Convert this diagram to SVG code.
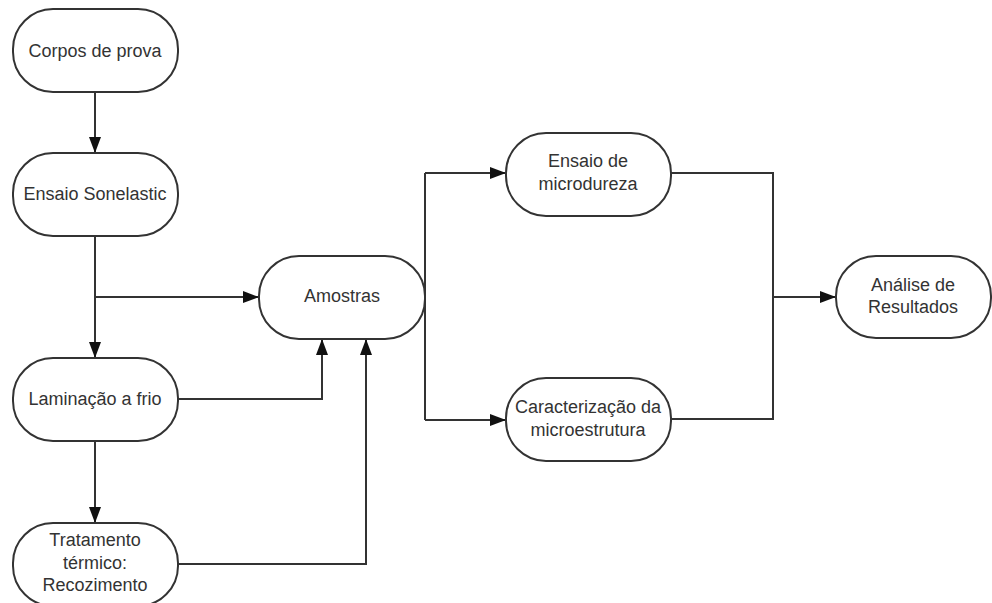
<svg xmlns="http://www.w3.org/2000/svg" width="992" height="603" viewBox="0 0 992 603">
<style>
.box{fill:#fff;stroke:#333;stroke-width:2}
.t{font-family:"Liberation Sans",Arial,sans-serif;font-size:18px;fill:#333;text-anchor:middle}
.c{fill:none;stroke:#333;stroke-width:2}
</style>
<defs>
<marker id="ah" markerWidth="16" markerHeight="12" refX="15" refY="6" orient="auto" markerUnits="userSpaceOnUse">
<path d="M0,0 L16,6 L0,12 Z" fill="#111"/>
</marker>
</defs>
<rect width="992" height="603" fill="#fff"/>
<g id="connectors">
<path class="c" d="M95,92 V152" marker-end="url(#ah)"/>
<path class="c" d="M95,236 V357" marker-end="url(#ah)"/>
<path class="c" d="M95,297 H258" marker-end="url(#ah)"/>
<path class="c" d="M95,441 V522" marker-end="url(#ah)"/>
<path class="c" d="M177,399 H322 V340" marker-end="url(#ah)"/>
<path class="c" d="M177,564 H366 V340" marker-end="url(#ah)"/>
<path class="c" d="M425,173 V420"/>
<path class="c" d="M425,173 H505" marker-end="url(#ah)"/>
<path class="c" d="M425,420 H505" marker-end="url(#ah)"/>
<path class="c" d="M671,173 H773 V419 H671"/>
<path class="c" d="M773,297 H835" marker-end="url(#ah)"/>
</g>
<g id="corpos">
<rect class="box" x="13" y="9" width="165" height="83" rx="40"/>
<text class="t" x="95" y="57">Corpos de prova</text>
</g>
<g id="sonelastic">
<rect class="box" x="13" y="153" width="165" height="83" rx="40"/>
<text class="t" x="95" y="200">Ensaio Sonelastic</text>
</g>
<g id="laminacao">
<rect class="box" x="13" y="358" width="165" height="83" rx="40"/>
<text class="t" x="95" y="405">Laminação a frio</text>
</g>
<g id="tratamento">
<rect class="box" x="13" y="523" width="165" height="83" rx="40"/>
<text class="t" x="95" y="546">Tratamento</text>
<text class="t" x="95" y="569">térmico:</text>
<text class="t" x="95" y="591">Recozimento</text>
</g>
<g id="amostras">
<rect class="box" x="259" y="256" width="166" height="83" rx="40"/>
<text class="t" x="342" y="302">Amostras</text>
</g>
<g id="microdureza">
<rect class="box" x="506" y="133" width="165" height="83" rx="40"/>
<text class="t" x="588" y="167">Ensaio de</text>
<text class="t" x="588" y="190">microdureza</text>
</g>
<g id="caracterizacao">
<rect class="box" x="506" y="378" width="165" height="83" rx="40"/>
<text class="t" x="588" y="413">Caracterização da</text>
<text class="t" x="588" y="436">microestrutura</text>
</g>
<g id="analise">
<rect class="box" x="836" y="256" width="155" height="82" rx="40"/>
<text class="t" x="913" y="291">Análise de</text>
<text class="t" x="913" y="313">Resultados</text>
</g>
</svg>
